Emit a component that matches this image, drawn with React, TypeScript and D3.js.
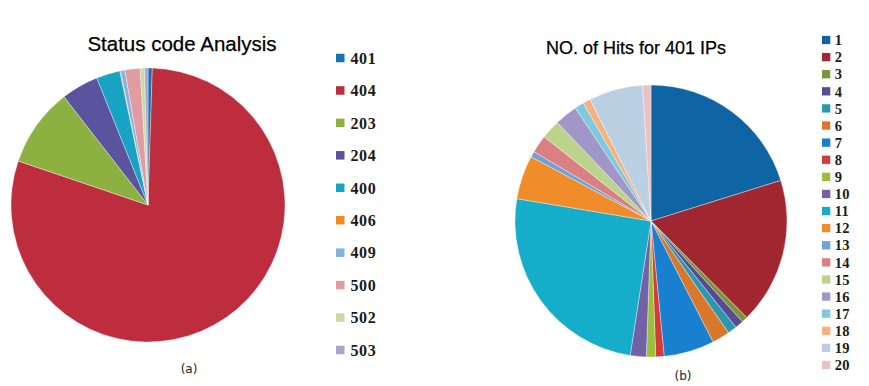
import React, { useEffect, useRef } from "react";
import * as d3 from "d3";

// left chart: status codes
const statusCodes = ["401", "404", "203", "204", "400", "406", "409", "500", "502", "503"];
const statusShares = [0.5, 79.7, 9.3, 4.4, 2.8, 0.1, 0.5, 1.8, 0.5, 0.4];
const statusColors = [
  "#1b6fb5", "#be2d3d", "#8db140", "#5a539e", "#17a3c4",
  "#ef8a25", "#80b3de", "#e19ca1", "#c8daa3", "#aaa5cc"
];

// right chart: hits per IP
const ipLabels = ["1", "2", "3", "4", "5", "6", "7", "8", "9", "10",
  "11", "12", "13", "14", "15", "16", "17", "18", "19", "20"];
const ipHits = [20.2, 17.4, 0.7, 1.0, 1.1, 2.1, 6.0, 1.0, 1.1, 1.9,
  25.2, 5.2, 0.7, 2.1, 2.3, 2.7, 1.1, 0.9, 6.4, 1.0];
const ipColors = [
  "#0f64a3", "#a2262f", "#78973a", "#5a4a93", "#2a98ae",
  "#d9782b", "#1880cf", "#d23b3c", "#9bbf3b", "#7361a8",
  "#15adca", "#f18c2b", "#6fa2d7", "#da8083", "#bcd38c",
  "#a196c8", "#7ec9dd", "#f8b07c", "#bad0e2", "#e9c2c1"
];

function drawPie(svg, cfg) {
  const g = svg.append("g").attr("transform", `translate(${cfg.cx},${cfg.cy})`);
  const pie = d3.pie().sort(null).value(d => d);
  const arc = d3.arc().innerRadius(0).outerRadius(cfg.r);
  g.selectAll("path")
    .data(pie(cfg.values))
    .enter()
    .append("path")
    .attr("d", arc)
    .attr("fill", (d, i) => cfg.colors[i])
    .attr("stroke", "#ffffff")
    .attr("stroke-opacity", 0.6)
    .attr("stroke-width", 0.6);

  svg.append("text")
    .attr("x", cfg.titleX)
    .attr("y", cfg.titleY)
    .attr("text-anchor", "middle")
    .attr("font-family", "Liberation Sans, Arial, sans-serif")
    .attr("font-size", cfg.titleSize)
    .attr("stroke", "#000")
    .attr("stroke-width", 0.25)
    .attr("fill", "#000")
    .text(cfg.title);

  const rows = d3.scaleLinear().domain([0, cfg.labels.length - 1]).range(cfg.legendY);
  const leg = svg.append("g");
  cfg.labels.forEach((lab, i) => {
    leg.append("rect")
      .attr("x", cfg.legendX)
      .attr("y", rows(i) - cfg.box / 2)
      .attr("width", cfg.box)
      .attr("height", cfg.box)
      .attr("fill", cfg.colors[i]);
    leg.append("text")
      .attr("x", cfg.legendX + cfg.box + cfg.gap)
      .attr("y", rows(i))
      .attr("dy", "0.36em")
      .attr("font-family", "Liberation Serif, Times New Roman, serif")
      .attr("font-weight", "bold")
      .attr("font-size", cfg.legendSize)
      .attr("letter-spacing", cfg.spacing)
      .attr("fill", "#1a1a1a")
      .text(lab);
  });

  svg.append("text")
    .attr("x", cfg.capX)
    .attr("y", cfg.capY)
    .attr("text-anchor", "middle")
    .attr("font-family", "DejaVu Sans, sans-serif")
    .attr("font-size", 12)
    .attr("fill", "#222")
    .text(cfg.caption);
}

export default function App() {
  const ref = useRef(null);

  useEffect(() => {
    const svg = d3.select(ref.current);
    svg.selectAll("*").remove();
    svg.append("rect").attr("width", 869).attr("height", 386).attr("fill", "#fff");

    drawPie(svg, {
      values: statusShares, colors: statusColors, labels: statusCodes,
      cx: 148, cy: 205, r: 137,
      title: "Status code Analysis", titleX: 182, titleY: 51, titleSize: 20.5,
      legendX: 336, legendY: [58, 350], box: 8.5, gap: 6, legendSize: 16, spacing: 0.6,
      caption: "(a)", capX: 189, capY: 373
    });

    drawPie(svg, {
      values: ipHits, colors: ipColors, labels: ipLabels,
      cx: 651, cy: 221, r: 136,
      title: "NO. of Hits for 401 IPs", titleX: 636, titleY: 54, titleSize: 18,
      legendX: 822, legendY: [40, 365], box: 8.3, gap: 4.5, legendSize: 14.5, spacing: 0.3,
      caption: "(b)", capX: 683, capY: 380
    });
  }, []);

  return (
    <svg
      ref={ref}
      width={869}
      height={386}
      style={{ position: "absolute", left: 0, top: 0, display: "block" }}
    />
  );
}
